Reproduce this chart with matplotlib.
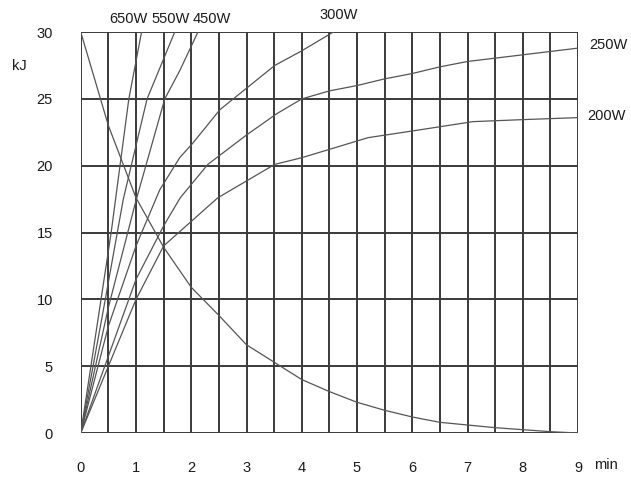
import matplotlib
matplotlib.use("Agg")
import matplotlib.pyplot as plt
import numpy as np

plt.rcParams['font.family'] = ['Liberation Sans', 'DejaVu Sans']

# --- data ---
decay_x = [0, 0.5, 1.0, 1.5, 2.0, 2.5, 3.0, 3.5, 4.0, 4.5, 5.0, 5.5, 6.0, 6.5, 7.0, 7.5, 8.0, 8.5, 9.0]
decay_y = [30, 23.0, 17.6, 13.9, 10.9, 8.8, 6.6, 5.3, 4.0, 3.1, 2.3, 1.7, 1.2, 0.8, 0.6, 0.4, 0.25, 0.1, 0.0]

w650_x = [0, 0.55, 0.87, 1.1]
w650_y = [0, 15, 25, 30]

w550_x = [0, 0.4, 0.77, 1.2, 1.7]
w550_y = [0, 9, 17.5, 25, 30]

w450_x = [0, 0.5, 1.0, 1.52, 1.79, 2.12]
w450_y = [0, 9.4, 17.4, 25, 27.1, 30]

w300_x = [0, 0.5, 1.0, 1.43, 1.79, 2.03, 2.52, 3.03, 3.51, 4.0, 4.57]
w300_y = [0, 8.0, 14.0, 18.2, 20.6, 21.7, 24.2, 25.9, 27.5, 28.6, 30]

w250_x = [0, 1.0, 1.5, 1.8, 2.3, 3.0, 3.55, 4.0, 4.5, 5.0, 5.5, 6.0, 6.5, 7.0, 8.0, 9.0]
w250_y = [0, 11.5, 15.5, 17.6, 20.1, 22.3, 23.9, 25.0, 25.6, 26.0, 26.5, 26.9, 27.4, 27.8, 28.3, 28.8]

w200_x = [0, 0.5, 1.0, 1.5, 2.48, 3.51, 4.0, 5.2, 6.0, 7.1, 8.0, 9.0]
w200_y = [0, 5, 10, 14, 17.6, 20.1, 20.6, 22.1, 22.6, 23.3, 23.45, 23.6]

x_ticks = [0, 1, 2, 3, 4, 5, 6, 7, 8, 9]
y_ticks = [0, 5, 10, 15, 20, 25, 30]

labels = ["650W", "550W", "450W", "300W", "250W", "200W"]
label_pos = [(0.87, 31.0), (1.63, 31.0), (2.37, 31.0), (4.66, 31.3), (9.55, 29.0), (9.52, 23.7)]

fig = plt.figure(figsize=(6.31, 4.79), dpi=100)
ax = fig.add_axes([0.128, 0.096, 0.788, 0.837])
ax.set_xlim(0, 9)
ax.set_ylim(0, 30)

gridc = '#3a3a3a'
for gx in np.arange(0, 9.01, 0.5):
    ax.axvline(gx, color=gridc, lw=1.4, zorder=1)
for gy in y_ticks:
    ax.axhline(gy, color=gridc, lw=1.4, zorder=1)
for s in ax.spines.values():
    s.set_visible(False)

curvec = '#555555'
for xs, ys in [(decay_x, decay_y), (w650_x, w650_y), (w550_x, w550_y), (w450_x, w450_y),
               (w300_x, w300_y), (w250_x, w250_y), (w200_x, w200_y)]:
    ax.plot(xs, ys, color=curvec, lw=0.9, zorder=2)

txtc = '#1a1a1a'
ax.set_xticks(x_ticks)
ax.set_yticks(y_ticks)
ax.tick_params(length=0, labelsize=10.5, colors=txtc)
ax.tick_params(axis='x', pad=20)
ax.tick_params(axis='y', pad=20)

for lab, (lx, ly) in zip(labels, label_pos):
    ax.text(lx, ly, lab, fontsize=10.5, ha='center', va='center', color=txtc, clip_on=False)

ax.text(9.5, -2.4, "min", fontsize=10.5, ha='center', va='center', color=txtc, clip_on=False)
ax.text(-1.11, 27.5, "kJ", fontsize=10.5, ha='center', va='center', color=txtc, clip_on=False)

fig.savefig("out.png", dpi=100)
